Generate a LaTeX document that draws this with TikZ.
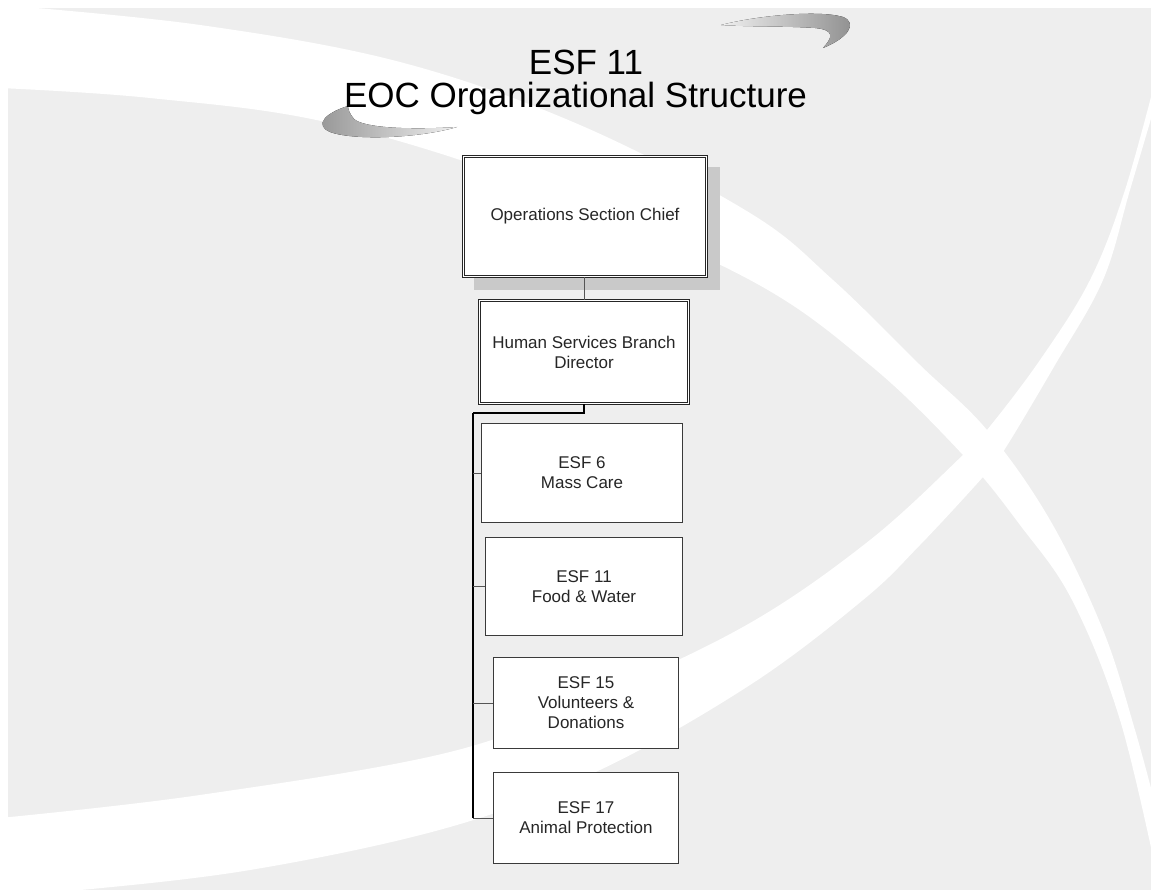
\documentclass[tikz,border=0pt]{standalone}
\usepackage{fontspec}
\setmainfont{Liberation Sans}
\usetikzlibrary{calc}
\definecolor{pagegray}{HTML}{EEEEEE}
\definecolor{boxline}{HTML}{3A3A3A}
\definecolor{txt}{HTML}{262626}
\definecolor{shadowgray}{HTML}{C9C9C9}
\definecolor{tickgray}{HTML}{555555}
\begin{document}
\begin{tikzpicture}[x=1pt,y=-1pt,
  box/.style={draw=boxline, line width=1.1pt, fill=white, text=txt, align=center,
    font=\fontsize{17}{20}\selectfont, inner sep=0pt},
  dbox/.style={box, draw=black!85, double=white, double distance=1.8pt, line width=0.7pt},
  titlefont/.style={font=\fontsize{35}{36}\selectfont, text=black, inner sep=0pt, anchor=base},
  busline/.style={draw=black, line width=1.2pt},
  feed/.style={draw=black, line width=1.7pt},
  tick/.style={draw=tickgray, line width=0.9pt},
  link/.style={draw=tickgray, line width=1pt}]

% page and background panel
\useasboundingbox (0,0) rectangle (1151,890);
\fill[white] (0,0) rectangle (1151,890);
\fill[pagegray] (8,8) rectangle (1151,890);

\begin{scope}
\clip (8,8) rectangle (1151,890);
% sweeping band from the upper left down to the lower right
\fill[white] plot[smooth, tension=0.6] coordinates {(0,5) (200,25) (400,62) (580,125) (750,213) (833,280) (920,365) (987,430) (1050,520) (1103,630) (1135,730) (1158,815)}
  -- plot[smooth, tension=0.6] coordinates {(1158,880) (1120,720) (1072,600) (1020,525) (963,455) (870,365) (750,280) (540,188) (330,123) (150,98) (0,88)} -- cycle;
% sweeping band from the lower left up to the upper right
\fill[white] plot[smooth, tension=0.6] coordinates {(0,818) (200,795) (450,752) (600,695) (750,623) (870,540) (963,455) (987,430) (1040,360) (1090,280) (1125,190) (1158,70)}
  -- plot[smooth, tension=0.6] coordinates {(1158,95) (1130,190) (1103,280) (1055,365) (1003,452) (983,477) (920,545) (863,600) (750,685) (600,770) (450,827) (250,870) (60,892) (0,895)} -- cycle;
\end{scope}

% shaded swooshes around the title
\fill[left color=black!42, right color=black!6]
  (348,106) .. controls (325,113) and (314,125) .. (330,132)
  .. controls (355,141) and (420,138) .. (457,127)
  .. controls (410,130) and (364,128) .. (354,119)
  .. controls (350,114) and (348,110) .. (348,106) -- cycle;
\fill[left color=black!6, right color=black!45]
  (721,25) .. controls (760,15) and (820,10) .. (843,17)
  .. controls (858,23) and (848,38) .. (823,48)
  .. controls (832,38) and (836,30) .. (815,28)
  .. controls (785,26) and (750,27) .. (721,25) -- cycle;

% title
\node[titlefont] (t1) at (586,75) {ESF 11};
\node[titlefont] (t2) at (575.5,108) {EOC Organizational Structure};

% boxes
\fill[shadowgray] (474,167) rectangle (720,290);
\node[dbox, minimum width=243pt, minimum height=120pt] (ops) at (585,216.5) {Operations Section Chief};
\node[dbox, minimum width=209pt, minimum height=103pt] (hsbd) at (584,352) {Human Services Branch\\Director};
\node[box, minimum width=201pt, minimum height=99pt] (esf6) at (582,473) {ESF 6\\Mass Care};
\node[box, minimum width=197pt, minimum height=98pt] (esf11) at (584,586.5) {ESF 11\\Food \& Water};
\node[box, minimum width=185pt, minimum height=91pt] (esf15) at (586,703) {ESF 15\\Volunteers \&\\Donations};
\node[box, minimum width=185pt, minimum height=91pt] (esf17) at (586,818) {ESF 17\\Animal Protection};

% connectors
\coordinate (bustop) at (473,413);
\coordinate (busend) at (473,818);
\draw[link] (ops.south -| hsbd.north) -- (hsbd.north);
\draw[feed] (hsbd.south) |- (bustop);
\draw[busline] (bustop) -- (busend);
\draw[tick] (esf6.west -| bustop) -- (esf6.west);
\draw[tick] (esf11.west -| bustop) -- (esf11.west);
\draw[tick] (esf15.west -| bustop) -- (esf15.west);
\draw[tick] (esf17.west -| bustop) -- (esf17.west);
\end{tikzpicture}
\end{document}
